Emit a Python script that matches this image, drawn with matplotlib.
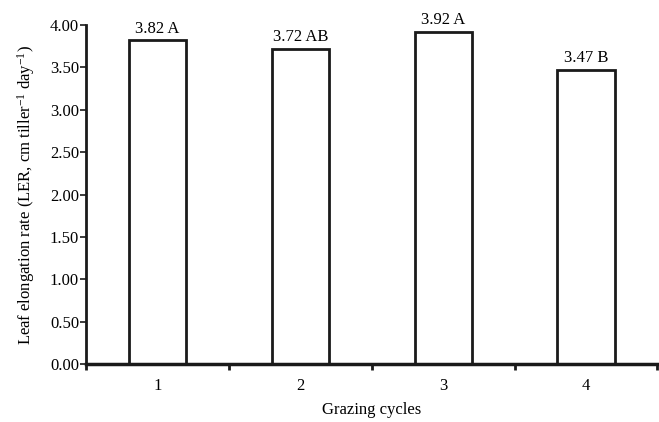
import numpy as np
import matplotlib
matplotlib.use('Agg')
import matplotlib.pyplot as plt
from matplotlib.ticker import MultipleLocator, FixedLocator

plt.rcParams['font.family'] = 'Liberation Serif'
plt.rcParams['mathtext.fontset'] = 'custom'
plt.rcParams['mathtext.rm'] = 'Liberation Serif'
plt.rcParams['mathtext.it'] = 'Liberation Serif:italic'

cycles = ['1', '2', '3', '4']
ler = [3.82, 3.72, 3.92, 3.47]
letters = ['A', 'AB', 'A', 'B']

fig = plt.figure(figsize=(6.59, 4.22), dpi=100)
ax = fig.add_axes([0.1305, 0.137, 0.867, 0.804])

x = np.arange(1, len(cycles) + 1)
ax.bar(x, ler, width=0.4, facecolor='white', edgecolor='#1a1a1a', linewidth=2)
for xi, v, l in zip(x, ler, letters):
    ax.text(xi, v + 0.04, f'{v:.2f} {l}', ha='center', va='bottom', fontsize=12)

ax.set_xlim(0.5, 4.5)
ax.set_ylim(0, 4.0)
ax.yaxis.set_major_locator(MultipleLocator(0.5))
ax.yaxis.set_major_formatter(plt.FormatStrFormatter('%.2f'))
ax.xaxis.set_major_locator(FixedLocator(x))
ax.set_xticklabels(cycles)
ax.xaxis.set_minor_locator(FixedLocator([0.5, 1.5, 2.5, 3.5, 4.5]))
ax.tick_params(axis='x', which='major', length=0, pad=10, labelsize=12)
ax.tick_params(axis='x', which='minor', length=4, width=2, direction='out', color='#1a1a1a')
ax.tick_params(axis='y', length=4, width=1.2, direction='out', labelsize=12, pad=1, color='#1a1a1a')

for s in ['top', 'right']:
    ax.spines[s].set_visible(False)
ax.spines['left'].set_linewidth(2)
ax.spines['bottom'].set_linewidth(2.5)
ax.spines['left'].set_color('#1a1a1a')
ax.spines['bottom'].set_color('#1a1a1a')

ax.set_xlabel('Grazing cycles', fontsize=12, labelpad=6)
ax.set_ylabel('Leaf elongation rate (LER, cm tiller$^{-1}$ day$^{-1}$)', fontsize=12, labelpad=9)

fig.savefig('out.png', dpi=100)
